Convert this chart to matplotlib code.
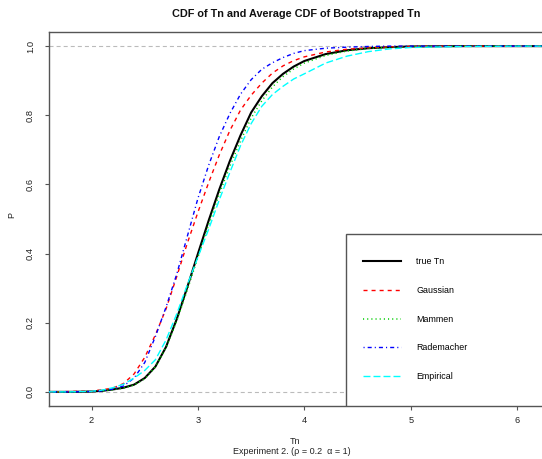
import matplotlib
matplotlib.use("Agg")
import matplotlib.pyplot as plt
from matplotlib.patches import Rectangle

plt.rcParams['font.family'] = ['Liberation Sans', 'DejaVu Sans']
plt.rcParams['lines.scale_dashes'] = False

x = [1.6, 1.8, 2.0, 2.1, 2.2, 2.3, 2.4, 2.5, 2.6, 2.7, 2.8, 2.9, 3.0, 3.1, 3.2, 3.3, 3.4,
     3.5, 3.6, 3.7, 3.8, 3.9, 4.0, 4.2, 4.4, 4.6, 4.8, 5.0, 5.5, 6.0, 6.6]
true_tn = [0.0, 0.0, 0.001, 0.003, 0.007, 0.012, 0.021, 0.040, 0.073, 0.130, 0.210, 0.303,
           0.400, 0.495, 0.585, 0.668, 0.742, 0.808, 0.855, 0.893, 0.920, 0.941, 0.957,
           0.977, 0.988, 0.994, 0.997, 0.999, 1.0, 1.0, 1.0]
gaussian = [0.0, 0.001, 0.003, 0.006, 0.011, 0.024, 0.052, 0.100, 0.165, 0.240, 0.333, 0.430,
            0.520, 0.605, 0.685, 0.756, 0.815, 0.858, 0.893, 0.922, 0.943, 0.958, 0.969,
            0.983, 0.991, 0.995, 0.998, 0.999, 1.0, 1.0, 1.0]
mammen = [0.0, 0.0, 0.001, 0.003, 0.006, 0.011, 0.020, 0.038, 0.072, 0.128, 0.205, 0.295,
          0.390, 0.483, 0.572, 0.653, 0.726, 0.792, 0.842, 0.882, 0.912, 0.934, 0.951,
          0.973, 0.986, 0.993, 0.997, 0.999, 1.0, 1.0, 1.0]
rademacher = [0.0, 0.0, 0.001, 0.003, 0.008, 0.017, 0.040, 0.085, 0.160, 0.245, 0.340, 0.450,
              0.560, 0.655, 0.738, 0.805, 0.861, 0.903, 0.933, 0.952, 0.967, 0.979, 0.987,
              0.994, 0.997, 0.999, 1.0, 1.0, 1.0, 1.0, 1.0]
empirical = [0.0, 0.0, 0.002, 0.005, 0.012, 0.022, 0.040, 0.062, 0.093, 0.150, 0.225, 0.310,
             0.390, 0.470, 0.555, 0.635, 0.712, 0.776, 0.826, 0.860, 0.884, 0.905, 0.920,
             0.951, 0.971, 0.984, 0.992, 0.996, 0.999, 1.0, 1.0]

labels = ["true Tn", "Gaussian", "Mammen", "Rademacher", "Empirical"]
series = [true_tn, gaussian, mammen, rademacher, empirical]
colors = ["#000000", "#FF0000", "#00CD00", "#0000FF", "#00FFFF"]
dashes = [None, (0, (2.9, 2.9)), (0, (0.8, 2.2)), (0, (0.8, 2.2, 2.9, 2.2)), (0, (5.0, 2.2))]
widths = [1.5, 1.0, 1.1, 1.0, 1.0]

xticks = [2, 3, 4, 5, 6]
yticks = [0.0, 0.2, 0.4, 0.6, 0.8, 1.0]
ytick_labels = ["0.0", "0.2", "0.4", "0.6", "0.8", "1.0"]

W, H = 542, 459
fig = plt.figure(figsize=(W / 100, H / 100), dpi=100)
left = 49 / W
bottom = 1 - 405.7 / H
top = 1 - 32.3 / H
xmin, xmax = 1.60, 6.6
width = (xmax - xmin) * 106.4 / W
ax = fig.add_axes([left, bottom, width, top - bottom])
ax.set_xlim(xmin, xmax)
ax.set_ylim(-0.04, 1.04)

spine_col = "#555555"
for s in ["left", "bottom", "top", "right"]:
    ax.spines[s].set_color(spine_col)
    ax.spines[s].set_linewidth(1.0)

ax.axhline(0, color="#BBBBBB", lw=0.8, linestyle=(0, (2.9, 2.2)), zorder=1)
ax.axhline(1, color="#BBBBBB", lw=0.8, linestyle=(0, (2.9, 2.2)), zorder=1)

handles = []
for vals, lab, c, d, w in zip(series, labels, colors, dashes, widths):
    ls = "-" if d is None else d
    h, = ax.plot(x, vals, color=c, linestyle=ls, lw=w, label=lab, zorder=3)
    handles.append(h)

ax.set_xticks(xticks)
ax.set_xticklabels([str(t) for t in xticks])
ax.set_yticks(yticks)
ax.set_yticklabels(ytick_labels, rotation=90, va="center")
ax.tick_params(axis="both", direction="out", length=3.1, width=0.8, color=spine_col,
               labelsize=6.7, labelcolor="#222222")
ax.tick_params(axis="x", pad=4.5)
ax.tick_params(axis="y", pad=7)

# legend box
rect = Rectangle((4.389, -0.04), 5.0, 0.497, transform=ax.transData, facecolor="white",
                 edgecolor=spine_col, lw=1.0, zorder=5)
ax.add_patch(rect)
leg = ax.legend(handles=handles, loc="upper left", bbox_to_anchor=(362.7 / W, 1 - 257.5 / H),
                bbox_transform=fig.transFigure, frameon=False, fontsize=6.4,
                handlelength=4.3, handletextpad=1.7, labelspacing=2.2,
                borderpad=0, borderaxespad=0)
leg.set_zorder(6)

fig.text(296 / W, 1 - 14 / H, "CDF of Tn and Average CDF of Bootstrapped Tn",
         ha="center", va="center", fontsize=7.8, fontweight="bold", color="#111111")
fig.text(295 / W, 1 - 441 / H, "Tn", ha="center", va="center", fontsize=6.5, color="#222222")
fig.text(292 / W, 1 - 451.5 / H, "Experiment 2. (\u03c1 = 0.2  \u03b1 = 1)", ha="center",
         va="center", fontsize=6.5, color="#222222")
fig.text(12 / W, 1 - 215 / H, "P", ha="center", va="center", rotation=90, fontsize=6.5,
         color="#222222")

fig.savefig("out.png", dpi=100)
